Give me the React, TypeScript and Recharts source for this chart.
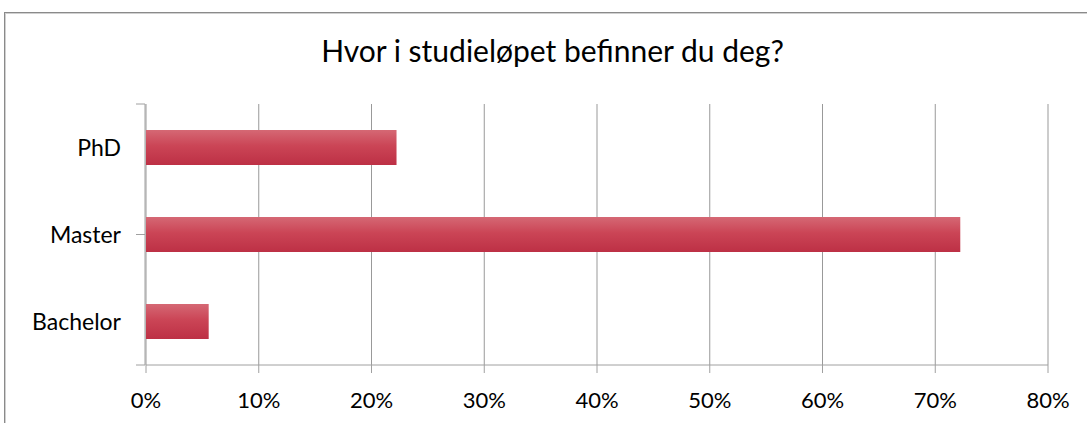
import React from 'react';
import { BarChart, Bar, XAxis, YAxis, CartesianGrid } from 'recharts';

// top to bottom, as drawn
const categories = ['PhD', 'Master', 'Bachelor'];
const shares = [22.22, 72.22, 5.56];
const xTicks = [0, 10, 20, 30, 40, 50, 60, 70, 80];
const boundaryTicks = [0, 1, 2, 3];

const data = categories.map((name, i) => ({ name, share: shares[i] }));

const FONT = 'Lato, "Open Sans", sans-serif';

export default function App() {
  return (
    <div style={{ position: 'absolute', left: 0, top: 0, width: 1087, height: 423, overflow: 'hidden', background: '#fff', fontFamily: FONT }}>
      <div
        style={{
          position: 'absolute',
          left: 4,
          top: 12,
          width: 1120,
          height: 460,
          border: '1px solid #8a8a8a',
          boxShadow: 'inset 1px 1px 0 #d0d0d0',
        }}
      />
      <div
        style={{
          position: 'absolute',
          left: 0,
          top: 32,
          width: 1105,
          textAlign: 'center',
          fontSize: 30,
          color: '#000',
          lineHeight: '36px',
        }}
      >
        Hvor i studieløpet befinner du deg?
      </div>
      <div style={{ position: 'absolute', left: 0, top: 0 }}>
        <BarChart
          width={1087}
          height={423}
          data={data}
          layout="vertical"
          margin={{ top: 104, right: 39, bottom: 18, left: 144 }}
        >
          <defs>
            <linearGradient id="barFill" x1="0" y1="0" x2="0" y2="1">
              <stop offset="0%" stopColor="#d56874" />
              <stop offset="45%" stopColor="#cb4556" />
              <stop offset="100%" stopColor="#bd3045" />
            </linearGradient>
          </defs>
          <CartesianGrid horizontal={false} stroke="#999" />
          <XAxis
            type="number"
            domain={[0, 80]}
            ticks={xTicks}
            interval={0}
            tickFormatter={(v) => `${v}%`}
            stroke="#a0a0a0"
            tickSize={8}
            tickMargin={19}
            height={40}
            tick={{ fill: '#000', fontSize: 22, fontFamily: FONT }}
          />
          <YAxis
            yAxisId="edge"
            type="number"
            domain={[0, 3]}
            ticks={boundaryTicks}
            allowDataOverflow
            width={1}
            stroke="#a0a0a0"
            tickSize={9}
            tickFormatter={() => ''}
          />
          <YAxis
            yAxisId="cat"
            type="category"
            dataKey="name"
            width={1}
            axisLine={false}
            tickLine={false}
            tickSize={0}
            tickMargin={25}
            tick={{ fill: '#000', fontSize: 23, fontFamily: FONT }}
          />
          <Bar
            yAxisId="cat"
            dataKey="share"
            fill="url(#barFill)"
            barSize={35}
            isAnimationActive={false}
          />
        </BarChart>
      </div>
    </div>
  );
}
